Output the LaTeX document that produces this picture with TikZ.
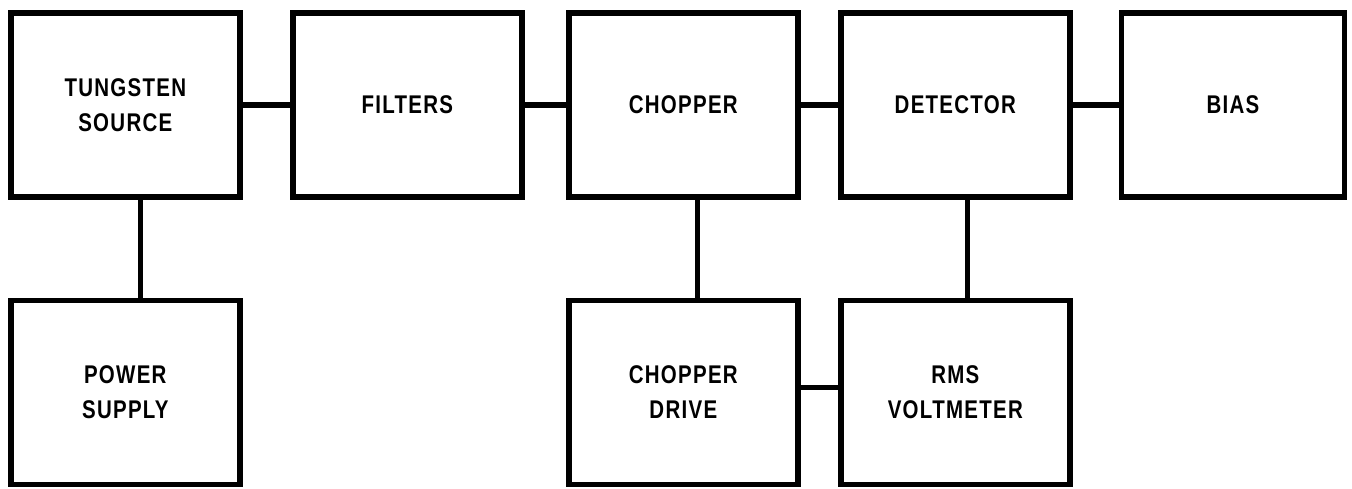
\documentclass[tikz,border=0pt]{standalone}
\usepackage{fontspec}
\setmainfont[FakeStretch=0.8,LetterSpace=5]{Liberation Sans}
\usetikzlibrary{positioning}

\begin{document}
\begin{tikzpicture}[node distance=23pt,
    block/.style={rectangle, draw, line width=2.8pt, minimum width=114.5pt, minimum height=92pt, align=center, font=\fontsize{12.8}{17.5}\selectfont\bfseries, inner sep=0pt},
    line/.style={draw, line width=2.8pt}]

    \useasboundingbox (0,0) rectangle (676pt,-244pt);

    \node [block, anchor=north west] (source) at (4pt,-5pt) {TUNGSTEN\\SOURCE};
    \node [block, right=23.7pt of source] (filters) {FILTERS};
    \node [block, right=20.7pt of filters] (chopper) {CHOPPER};
    \node [block, right=18.7pt of chopper] (detector) {DETECTOR};
    \node [block, right=23pt of detector, minimum width=111.5pt] (bias) {BIAS};
    \node [block, below=49pt of source] (power) {POWER\\SUPPLY};
    \node [block, below=49pt of chopper] (drive) {CHOPPER\\DRIVE};
    \node [block, below=49pt of detector] (rms) {RMS\\VOLTMETER};

    \path [line] (source) -- (filters);
    \path [line] (filters) -- (chopper);
    \path [line] (chopper) -- (detector);
    \path [line] (detector) -- (bias);
    \path [line] ([xshift=7.5pt]source.south) -- ([xshift=7.5pt]power.north);
    \path [line] ([xshift=7pt]chopper.south) -- ([xshift=7pt]drive.north);
    \path [line] ([xshift=6pt]detector.south) -- ([xshift=6pt]rms.north);
    \path [line] ([yshift=2.5pt]drive.east) -- ([yshift=2.5pt]rms.west);
\end{tikzpicture}
\end{document}
